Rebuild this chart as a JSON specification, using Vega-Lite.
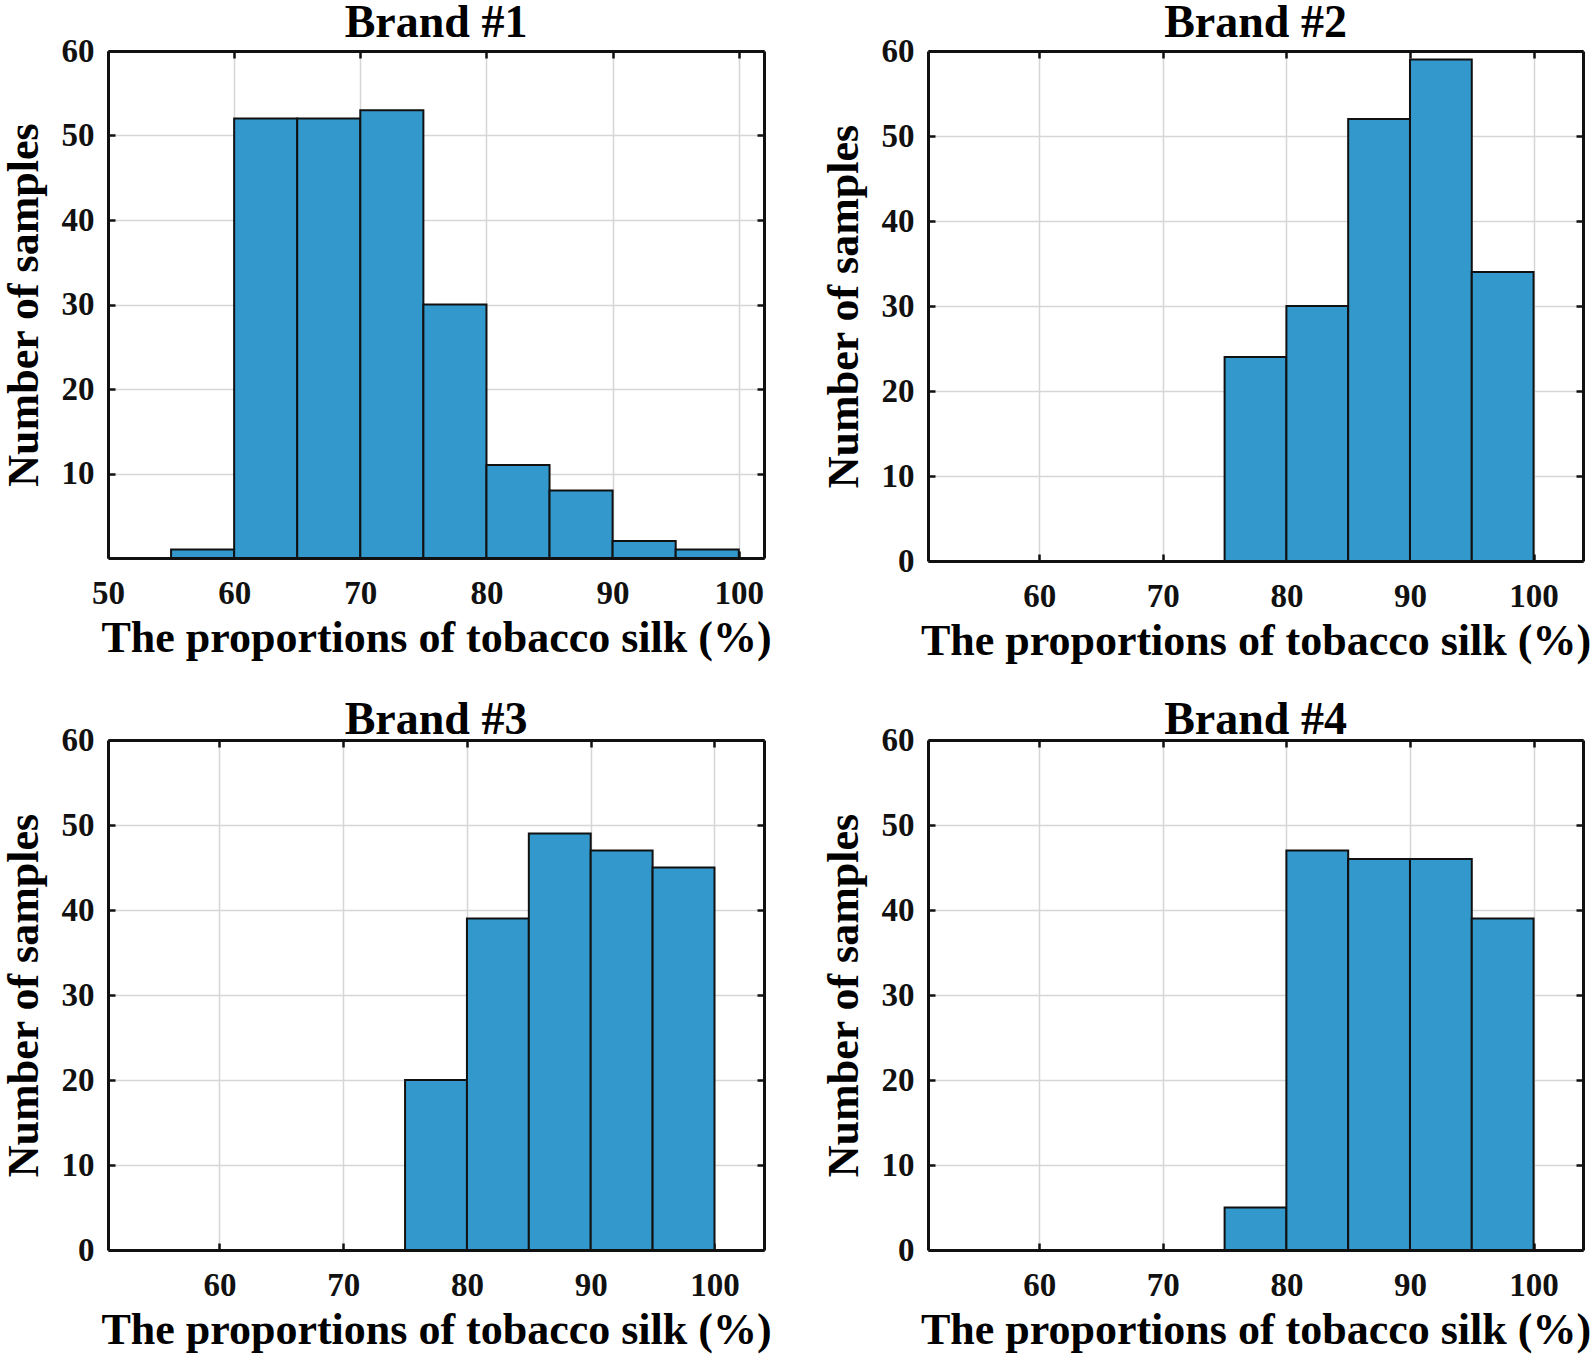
{
  "$schema": "https://vega.github.io/schema/vega-lite/v6.json",
  "background": "white",
  "padding": {"left": 2, "top": 0, "right": 5, "bottom": 5},
  "data": {
    "values": [
      {"brand": "Brand #1", "bin_start": 55, "bin_end": 60, "count": 1},
      {"brand": "Brand #1", "bin_start": 60, "bin_end": 65, "count": 52},
      {"brand": "Brand #1", "bin_start": 65, "bin_end": 70, "count": 52},
      {"brand": "Brand #1", "bin_start": 70, "bin_end": 75, "count": 53},
      {"brand": "Brand #1", "bin_start": 75, "bin_end": 80, "count": 30},
      {"brand": "Brand #1", "bin_start": 80, "bin_end": 85, "count": 11},
      {"brand": "Brand #1", "bin_start": 85, "bin_end": 90, "count": 8},
      {"brand": "Brand #1", "bin_start": 90, "bin_end": 95, "count": 2},
      {"brand": "Brand #1", "bin_start": 95, "bin_end": 100, "count": 1},
      {"brand": "Brand #2", "bin_start": 75, "bin_end": 80, "count": 24},
      {"brand": "Brand #2", "bin_start": 80, "bin_end": 85, "count": 30},
      {"brand": "Brand #2", "bin_start": 85, "bin_end": 90, "count": 52},
      {"brand": "Brand #2", "bin_start": 90, "bin_end": 95, "count": 59},
      {"brand": "Brand #2", "bin_start": 95, "bin_end": 100, "count": 34},
      {"brand": "Brand #3", "bin_start": 75, "bin_end": 80, "count": 20},
      {"brand": "Brand #3", "bin_start": 80, "bin_end": 85, "count": 39},
      {"brand": "Brand #3", "bin_start": 85, "bin_end": 90, "count": 49},
      {"brand": "Brand #3", "bin_start": 90, "bin_end": 95, "count": 47},
      {"brand": "Brand #3", "bin_start": 95, "bin_end": 100, "count": 45},
      {"brand": "Brand #4", "bin_start": 75, "bin_end": 80, "count": 5},
      {"brand": "Brand #4", "bin_start": 80, "bin_end": 85, "count": 47},
      {"brand": "Brand #4", "bin_start": 85, "bin_end": 90, "count": 46},
      {"brand": "Brand #4", "bin_start": 90, "bin_end": 95, "count": 46},
      {"brand": "Brand #4", "bin_start": 95, "bin_end": 100, "count": 39}
    ]
  },
  "columns": 2,
  "spacing": {"row": 179, "column": 164},
  "bounds": "flush",
  "concat": [
    {
      "title": {"text": "Brand #1", "offset": -12},
      "width": 656,
      "height": 507,
      "transform": [{"filter": "datum.brand == 'Brand #1'"}],
      "layer": [
        {
          "mark": {"type": "rect", "fill": "#3399cc", "stroke": "#111111", "strokeWidth": 2},
          "encoding": {
            "x": {"field": "bin_start", "type": "quantitative", "scale": {"domain": [50, 102], "nice": false, "zero": false},
              "axis": {"values": [50, 60, 70, 80, 90, 100], "title": "The proportions of tobacco silk (%)"}},
            "x2": {"field": "bin_end"},
            "y": {"field": "count", "type": "quantitative", "scale": {"domain": [0, 60], "nice": false},
              "axis": {"values": [10, 20, 30, 40, 50, 60], "title": "Number of samples"}},
            "y2": {"datum": 0}
          }
        },
        {
          "mark": {"type": "rect", "opacity": 0},
          "encoding": {
            "x": {"field": "bin_start", "type": "quantitative",
              "axis": {"orient": "top", "values": [50, 60, 70, 80, 90, 100], "labels": false, "labelPadding": 0, "minExtent": 0, "maxExtent": 0, "title": null, "grid": false, "zindex": 1}},
            "x2": {"field": "bin_end"},
            "y": {"field": "count", "type": "quantitative",
              "axis": {"orient": "right", "values": [0, 10, 20, 30, 40, 50, 60], "labels": false, "labelPadding": 0, "minExtent": 0, "maxExtent": 0, "title": null, "grid": false, "zindex": 1}},
            "y2": {"datum": 0}
          }
        }
      ],
      "resolve": {"axis": {"x": "independent", "y": "independent"}}
    },
    {
      "title": {"text": "Brand #2", "offset": -12},
      "width": 655,
      "height": 510,
      "transform": [{"filter": "datum.brand == 'Brand #2'"}],
      "layer": [
        {
          "mark": {"type": "rect", "fill": "#3399cc", "stroke": "#111111", "strokeWidth": 2},
          "encoding": {
            "x": {"field": "bin_start", "type": "quantitative", "scale": {"domain": [51, 104], "nice": false, "zero": false},
              "axis": {"values": [60, 70, 80, 90, 100], "title": "The proportions of tobacco silk (%)"}},
            "x2": {"field": "bin_end"},
            "y": {"field": "count", "type": "quantitative", "scale": {"domain": [0, 60], "nice": false},
              "axis": {"values": [0, 10, 20, 30, 40, 50, 60], "title": "Number of samples"}},
            "y2": {"datum": 0}
          }
        },
        {
          "mark": {"type": "rect", "opacity": 0},
          "encoding": {
            "x": {"field": "bin_start", "type": "quantitative",
              "axis": {"orient": "top", "values": [60, 70, 80, 90, 100], "labels": false, "labelPadding": 0, "minExtent": 0, "maxExtent": 0, "title": null, "grid": false, "zindex": 1}},
            "x2": {"field": "bin_end"},
            "y": {"field": "count", "type": "quantitative",
              "axis": {"orient": "right", "values": [0, 10, 20, 30, 40, 50, 60], "labels": false, "labelPadding": 0, "minExtent": 0, "maxExtent": 0, "title": null, "grid": false, "zindex": 1}},
            "y2": {"datum": 0}
          }
        }
      ],
      "resolve": {"axis": {"x": "independent", "y": "independent"}}
    },
    {
      "title": {"text": "Brand #3", "offset": -20},
      "width": 656,
      "height": 510,
      "transform": [{"filter": "datum.brand == 'Brand #3'"}],
      "layer": [
        {
          "mark": {"type": "rect", "fill": "#3399cc", "stroke": "#111111", "strokeWidth": 2},
          "encoding": {
            "x": {"field": "bin_start", "type": "quantitative", "scale": {"domain": [51, 104], "nice": false, "zero": false},
              "axis": {"values": [60, 70, 80, 90, 100], "title": "The proportions of tobacco silk (%)"}},
            "x2": {"field": "bin_end"},
            "y": {"field": "count", "type": "quantitative", "scale": {"domain": [0, 60], "nice": false},
              "axis": {"values": [0, 10, 20, 30, 40, 50, 60], "title": "Number of samples"}},
            "y2": {"datum": 0}
          }
        },
        {
          "mark": {"type": "rect", "opacity": 0},
          "encoding": {
            "x": {"field": "bin_start", "type": "quantitative",
              "axis": {"orient": "top", "values": [60, 70, 80, 90, 100], "labels": false, "labelPadding": 0, "minExtent": 0, "maxExtent": 0, "title": null, "grid": false, "zindex": 1}},
            "x2": {"field": "bin_end"},
            "y": {"field": "count", "type": "quantitative",
              "axis": {"orient": "right", "values": [0, 10, 20, 30, 40, 50, 60], "labels": false, "labelPadding": 0, "minExtent": 0, "maxExtent": 0, "title": null, "grid": false, "zindex": 1}},
            "y2": {"datum": 0}
          }
        }
      ],
      "resolve": {"axis": {"x": "independent", "y": "independent"}}
    },
    {
      "title": {"text": "Brand #4", "offset": -20},
      "width": 655,
      "height": 510,
      "transform": [{"filter": "datum.brand == 'Brand #4'"}],
      "layer": [
        {
          "mark": {"type": "rect", "fill": "#3399cc", "stroke": "#111111", "strokeWidth": 2},
          "encoding": {
            "x": {"field": "bin_start", "type": "quantitative", "scale": {"domain": [51, 104], "nice": false, "zero": false},
              "axis": {"values": [60, 70, 80, 90, 100], "title": "The proportions of tobacco silk (%)"}},
            "x2": {"field": "bin_end"},
            "y": {"field": "count", "type": "quantitative", "scale": {"domain": [0, 60], "nice": false},
              "axis": {"values": [0, 10, 20, 30, 40, 50, 60], "title": "Number of samples"}},
            "y2": {"datum": 0}
          }
        },
        {
          "mark": {"type": "rect", "opacity": 0},
          "encoding": {
            "x": {"field": "bin_start", "type": "quantitative",
              "axis": {"orient": "top", "values": [60, 70, 80, 90, 100], "labels": false, "labelPadding": 0, "minExtent": 0, "maxExtent": 0, "title": null, "grid": false, "zindex": 1}},
            "x2": {"field": "bin_end"},
            "y": {"field": "count", "type": "quantitative",
              "axis": {"orient": "right", "values": [0, 10, 20, 30, 40, 50, 60], "labels": false, "labelPadding": 0, "minExtent": 0, "maxExtent": 0, "title": null, "grid": false, "zindex": 1}},
            "y2": {"datum": 0}
          }
        }
      ],
      "resolve": {"axis": {"x": "independent", "y": "independent"}}
    }
  ],
  "config": {
    "view": {"stroke": null},
    "title": {"font": "Liberation Serif", "fontSize": 46, "fontWeight": "bold", "color": "#000000", "anchor": "middle"},
    "axis": {
      "domainColor": "#111111",
      "domainWidth": 3,
      "tickColor": "#111111",
      "tickWidth": 2.5,
      "tickSize": -7,
      "gridColor": "#d6d6d6",
      "gridWidth": 1.5,
      "labelFont": "Liberation Serif",
      "labelFontWeight": "bold",
      "labelFontSize": 33,
      "labelColor": "#111111",
      "labelFlush": false,
      "labelOverlap": false,
      "titleFont": "Liberation Serif",
      "titleFontWeight": "bold",
      "titleFontSize": 44,
      "titleColor": "#000000"
    },
    "axisX": {"labelPadding": 26, "titlePadding": 6},
    "axisY": {"labelPadding": 21, "titlePadding": 15}
  }
}
